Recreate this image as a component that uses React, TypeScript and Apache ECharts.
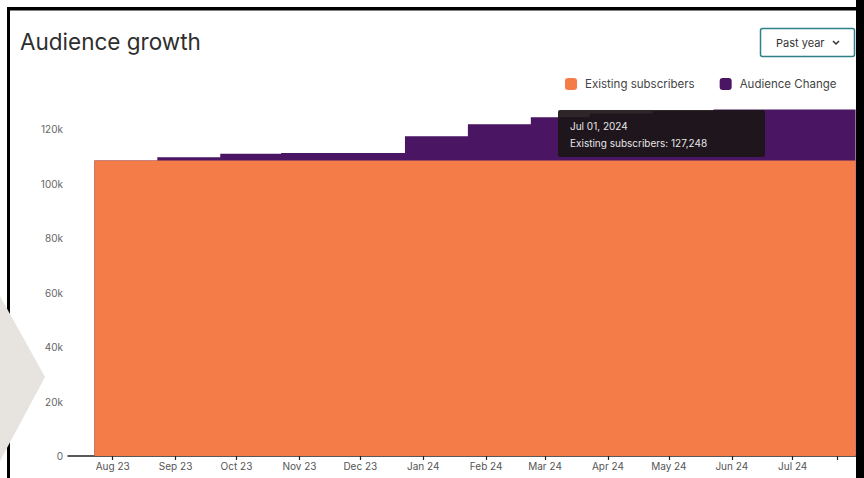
import React, { useEffect, useRef } from "react";
import * as echarts from "echarts";

const TITLE = "Audience growth";
const SERIES_NAMES = ["Existing subscribers", "Audience Change"];
const MONTH_NAMES = ["Jan", "Feb", "Mar", "Apr", "May", "Jun", "Jul", "Aug", "Sep", "Oct", "Nov", "Dec"];
// data dates (monthly snapshots on the 23rd), last point extends the final step to the edge
const DATES = [
  "2023-07-23", "2023-08-23", "2023-09-23", "2023-10-23", "2023-11-23", "2023-12-23",
  "2024-01-23", "2024-02-23", "2024-03-23", "2024-04-23", "2024-05-23", "2024-06-23",
  "2024-07-23", "2024-08-01",
];
const EXISTING = [108500, 108500, 108500, 108500, 108500, 108500, 108500, 108500, 108500, 108500, 108500, 108500, 108500, 108500];
const CHANGE = [0, 1200, 2500, 2800, 2800, 8900, 13300, 15900, 17300, 18100, 18748, 18748, 18748, 18748];
// axis ticks/labels: month starts
const TICK_MONTHS = [
  "2023-08-01", "2023-09-01", "2023-10-01", "2023-11-01", "2023-12-01", "2024-01-01",
  "2024-02-01", "2024-03-01", "2024-04-01", "2024-05-01", "2024-06-01", "2024-07-01",
];
const END_TICK = "2024-07-23";
const X_MIN = "2023-07-10";
const X_MAX = "2024-08-01";
const Y_MAX = 130000;
const Y_INTERVAL = 20000;
const TOOLTIP_LINES = ["Jul 01, 2024", "Existing subscribers: 127,248"];
const RANGE_BUTTON = "Past year";

const ORANGE = "#F47C48";
const PURPLE = "#4A1562";
const FONT = "Inter, 'Noto Sans', sans-serif";

function ts(s: string): number {
  const [y, m, d] = s.split("-").map(Number);
  return new Date(y, m - 1, d).getTime();
}

export default function App() {
  const ref = useRef<HTMLDivElement>(null);
  useEffect(() => {
    if (!ref.current) return;
    const chart = echarts.init(ref.current, null, { renderer: "svg" });
    const tickVals = TICK_MONTHS.map(ts);
    const totals = EXISTING.map((v, i) => v + CHANGE[i]);
    const option: any = {
      animation: false,
      backgroundColor: "#ffffff",
      textStyle: { fontFamily: FONT },
      grid: { left: 68, right: 8.4, top: 102, bottom: 22, containLabel: false },
      legend: {
        left: 560,
        top: 73,
        itemWidth: 12,
        itemHeight: 12,
        itemGap: 25,
        icon: "roundRect",
        data: SERIES_NAMES,
        textStyle: { fontSize: 11.5, color: "#444", fontFamily: FONT, padding: [0, 0, 0, 3] },
      },
      xAxis: {
        type: "value",
        min: ts(X_MIN),
        max: ts(X_MAX),
        scale: true,
        splitLine: { show: false },
        axisLine: { show: true, lineStyle: { color: "#222", width: 1.5 } },
        axisTick: {
          show: true,
          length: 4,
          customValues: [...tickVals, ts(END_TICK)],
          lineStyle: { color: "#222", width: 1.2 },
        },
        axisLabel: {
          customValues: tickVals,
          fontSize: 10,
          color: "#555",
          margin: 5,
          fontFamily: FONT,
          formatter: (v: number) => {
            const d = new Date(v);
            return MONTH_NAMES[d.getMonth()] + " " + String(d.getFullYear() % 100).padStart(2, "0");
          },
        },
      },
      yAxis: {
        type: "value",
        min: 0,
        max: Y_MAX,
        interval: Y_INTERVAL,
        splitLine: { show: false },
        axisLine: { show: false },
        axisTick: { show: false },
        axisLabel: {
          showMaxLabel: false,
          fontSize: 10,
          color: "#666",
          margin: 5,
          fontFamily: FONT,
          formatter: (v: number) => (v === 0 ? "0" : v / 1000 + "k"),
        },
      },
      series: [
        {
          name: SERIES_NAMES[1],
          type: "line",
          step: "end",
          symbol: "none",
          lineStyle: { width: 0 },
          itemStyle: { color: PURPLE },
          areaStyle: { color: PURPLE, opacity: 1 },
          data: DATES.map((d, i) => [ts(d), totals[i]]),
        },
        {
          name: SERIES_NAMES[0],
          type: "line",
          step: "end",
          symbol: "none",
          lineStyle: { width: 0 },
          itemStyle: { color: ORANGE },
          areaStyle: { color: ORANGE, opacity: 1 },
          data: DATES.map((d, i) => [ts(d), EXISTING[i]]),
        },
      ],
      graphic: [
        {
          type: "text",
          left: 20,
          top: 30,
          style: { text: TITLE, fontSize: 22.5, fill: "#2e2e2e", fontFamily: FONT, fontWeight: 400 },
        },
        {
          type: "rect",
          shape: { x: 760.5, y: 28.5, width: 94, height: 28, r: 2 },
          style: { fill: "#fff", stroke: "#2f8088", lineWidth: 1.5 },
        },
        {
          type: "text",
          x: 776,
          y: 43,
          style: { text: RANGE_BUTTON, fontSize: 11, fill: "#333", fontFamily: FONT, verticalAlign: "middle" },
        },
        {
          type: "polyline",
          shape: { points: [[833, 41], [836, 44], [839, 41]] },
          style: { stroke: "#333", lineWidth: 1.5, fill: "none" },
        },
        {
          type: "rect",
          z: 50,
          shape: { x: 558, y: 110, width: 207, height: 47, r: 2 },
          style: { fill: "rgba(28,22,24,0.93)" },
        },
        {
          type: "text",
          z: 51,
          x: 570,
          y: 126,
          style: { text: TOOLTIP_LINES[0], fontSize: 10, fill: "#e6e6e6", fontFamily: FONT, verticalAlign: "middle" },
        },
        {
          type: "text",
          z: 51,
          x: 570,
          y: 143,
          style: { text: TOOLTIP_LINES[1], fontSize: 10, fill: "#e6e6e6", fontFamily: FONT, verticalAlign: "middle" },
        },
        // frame
        { type: "rect", z: 90, shape: { x: 7, y: 7, width: 857, height: 3.5 }, style: { fill: "#000" } },
        { type: "rect", z: 90, shape: { x: 7, y: 7, width: 3, height: 471 }, style: { fill: "#000" } },
        { type: "rect", z: 90, shape: { x: 856, y: 0, width: 8, height: 478 }, style: { fill: "#000" } },
        {
          type: "polygon",
          z: 95,
          shape: { points: [[0, 296], [45, 377], [0, 461]] },
          style: { fill: "#e7e3de" },
        },
      ],
    };
    chart.setOption(option);
    return () => chart.dispose();
  }, []);
  return (
    <div
      ref={ref}
      style={{ position: "absolute", left: 0, top: 0, width: 864, height: 478, background: "#fff" }}
    />
  );
}
